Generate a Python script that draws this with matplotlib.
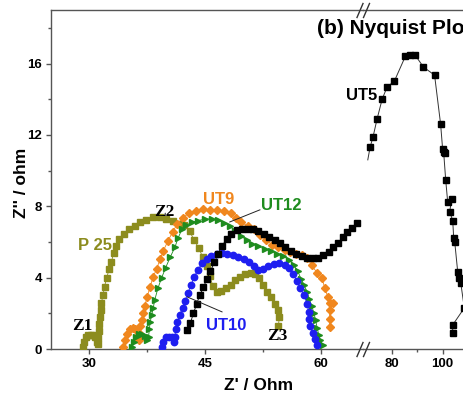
import matplotlib
matplotlib.use('Agg')
import matplotlib.pyplot as plt
from matplotlib.lines import Line2D
from matplotlib.ticker import FixedLocator

plt.rcParams['font.family'] = ['Liberation Sans', 'DejaVu Sans']
plt.rcParams['font.weight'] = 'bold'

# ---------------- data ----------------
p25_x = [29.2, 29.4, 29.6, 29.9, 30.2, 30.5, 30.8, 31.0, 31.1, 31.2, 31.3, 31.35, 31.4, 31.5, 31.6,
         31.8, 32.0, 32.3, 32.6, 32.9, 33.2, 33.5, 33.9, 34.5, 35.2, 35.9, 36.6, 37.4, 38.3, 39.2,
         40.0, 40.8, 41.6, 42.3, 43.0, 43.6, 44.2, 44.7, 45.2, 45.6, 46.0, 46.5, 47.1, 47.7, 48.3,
         48.9, 49.5, 50.2, 50.9, 51.5, 52.0, 52.5, 53.0, 53.5, 54.0, 54.5, 54.6, 54.5]
p25_y = [0.1, 0.4, 0.65, 0.8, 0.8, 0.8, 0.7, 0.4, 0.3, 0.6, 1.0, 1.4, 1.8, 2.2, 2.6,
         3.0, 3.5, 4.0, 4.5, 4.9, 5.4, 5.8, 6.15, 6.45, 6.7, 6.9, 7.1, 7.25, 7.38, 7.4,
         7.3, 7.15, 7.0, 6.95, 6.6, 6.1, 5.65, 5.15, 4.65, 4.1, 3.55, 3.22, 3.25, 3.4, 3.6,
         3.85, 4.05, 4.2, 4.27, 4.2, 4.0, 3.6, 3.2, 2.9, 2.55, 2.2, 1.8, 1.3]

ut9_x = [34.4, 34.6, 34.9, 35.3, 35.7, 36.0, 36.2, 36.4, 36.5, 36.6, 36.8, 37.0, 37.2, 37.5, 37.9,
         38.3, 38.75, 39.2, 39.6, 40.2, 40.8, 41.4, 42.1, 42.9, 43.8, 44.8, 45.7, 46.6, 47.5, 48.3,
         49.0, 49.7, 50.5, 51.3, 52.1, 52.9, 53.7, 54.5, 55.3, 56.0, 56.8, 57.5, 58.2, 58.8, 59.5,
         60.1, 60.5, 60.9, 61.1, 61.6, 61.1, 61.1, 61.1]
ut9_y = [0.1, 0.5, 0.85, 1.1, 1.2, 1.1, 0.7, 0.5, 0.9, 1.3, 1.6, 2.0, 2.4, 2.9, 3.5,
         4.05, 4.5, 5.05, 5.5, 6.05, 6.55, 7.0, 7.35, 7.6, 7.75, 7.82, 7.8, 7.8, 7.75, 7.6,
         7.35, 7.1, 6.9, 6.7, 6.4, 6.1, 5.85, 5.7, 5.55, 5.45, 5.35, 5.27, 5.1, 4.7, 4.26,
         4.0, 3.4, 2.9, 2.6, 2.6, 2.2, 1.7, 1.23]

ut12_x = [35.6, 35.8, 36.1, 36.5, 36.9, 37.3, 37.5, 37.7, 37.8, 37.9, 38.1, 38.3, 38.5, 38.9, 39.4,
          39.9, 40.5, 41.1, 41.5, 42.0, 42.6, 43.3, 44.1, 45.0, 45.9, 46.7, 47.5, 48.2, 48.9, 49.6,
          50.4, 51.1, 51.9, 52.7, 53.5, 54.3, 55.1, 55.9, 56.5, 57.0, 57.4, 57.8, 58.2, 58.5, 58.8,
          59.1, 59.3, 59.5, 59.7, 59.9, 60.2]
ut12_y = [0.1, 0.4, 0.7, 0.85, 0.85, 0.75, 0.5, 0.7, 1.1, 1.5, 1.9, 2.3, 2.75, 3.4, 4.0,
          4.55, 5.15, 5.7, 6.2, 6.7, 6.95, 7.1, 7.2, 7.28, 7.3, 7.22, 7.07, 6.9, 6.6, 6.35,
          6.1, 5.9, 5.75, 5.6, 5.5, 5.35, 5.2, 5.0, 4.7, 4.35, 3.95, 3.6, 3.2, 2.8, 2.4,
          2.0, 1.6, 1.2, 0.8, 0.5, 0.25]

ut10_x = [39.4, 39.6, 39.9, 40.3, 40.7, 41.0, 41.1, 41.2, 41.4, 41.7, 42.1, 42.4, 42.8, 43.2, 43.6,
          44.1, 44.6, 45.2, 45.8, 46.5, 47.2, 47.9, 48.6, 49.3, 50.0, 50.7, 51.3, 51.9, 52.5, 53.2,
          53.9, 54.6, 55.3, 55.9, 56.4, 56.9, 57.3, 57.8, 58.2, 58.4, 58.5, 58.6, 58.9, 59.2, 59.5]
ut10_y = [0.1, 0.4, 0.65, 0.7, 0.65, 0.4, 0.7, 1.1, 1.5, 1.9, 2.3, 2.7, 3.15, 3.6, 4.05,
          4.45, 4.8, 5.05, 5.22, 5.32, 5.38, 5.35, 5.27, 5.15, 5.02, 4.88, 4.65, 4.42, 4.5, 4.65,
          4.78, 4.8, 4.72, 4.55, 4.2, 3.8, 3.4, 3.0, 2.55, 2.1, 1.7, 1.3, 0.9, 0.55, 0.25]

blk_x = [42.7, 43.1, 43.5, 43.9, 44.3, 44.8, 45.2, 45.7, 46.2, 46.7, 47.2, 47.8, 48.4, 49.1, 49.8,
         50.5, 51.2, 51.9, 52.6, 53.3, 54.0, 54.7, 55.4, 56.1, 56.8, 57.5, 58.2, 58.9, 59.6, 60.3,
         61.0, 61.6, 62.2, 62.8, 63.4, 64.0, 64.6]
blk_y = [1.05, 1.45, 2.0, 2.5, 3.0, 3.45, 3.9, 4.35, 4.85, 5.35, 5.8, 6.15, 6.45, 6.65, 6.72,
         6.75, 6.7, 6.6, 6.45, 6.3, 6.12, 5.92, 5.72, 5.52, 5.35, 5.2, 5.12, 5.08, 5.12, 5.25,
         5.45, 5.7, 5.95, 6.25, 6.55, 6.8, 7.05]

ut5_x = [70.3, 71.2, 72.4, 74.0, 76.0, 78.0, 80.8, 85.2, 87.2, 89.2, 92.4, 96.8, 99.2, 100.0, 100.8,
         100.4, 101.2, 102.0, 103.6, 102.8, 104.0, 104.4, 104.8, 106.0, 106.4, 107.2, 108.6, 104.0, 104.0]
ut5_y = [10.6, 11.3, 11.9, 12.9, 14.0, 14.7, 15.0, 16.4, 16.45, 16.45, 15.8, 15.35, 12.6, 11.2, 11.0,
         11.05, 9.5, 8.25, 8.4, 7.7, 7.2, 6.2, 6.0, 4.3, 4.0, 3.7, 2.3, 1.35, 0.9]

left_xticks = [30, 45, 60]
left_xminor = [37.5, 52.5]
right_xticks = [80, 100]
right_xminor = [90, 110]
yticks = [0, 4, 8, 12, 16]
yminor = [2, 6, 10, 14, 18]

# leader lines (data coords of left axes)
ut12_leader_x = [52.1, 48.2]
ut12_leader_y = [7.8, 7.12]
ut10_leader_x = [42.7, 47.2]
ut10_leader_y = [2.92, 2.08]

# ---------------- figure ----------------
W, H = 463, 398
fig = plt.figure(figsize=(W / 100, H / 100), dpi=100)
ax1 = fig.add_axes([51 / W, 49 / H, 312 / W, 339 / H])
ax2 = fig.add_axes([363 / W, 49 / H, 160 / W, 339 / H])
ax2.patch.set_alpha(0)

c_olive = '#8c8c1e'
c_orange = '#f0871e'
c_green = '#1e8c1e'
c_blue = '#1e1ef0'
spine_c = '#555555'

ax1.plot(p25_x, p25_y, color=c_olive, marker='s', ms=4.3, lw=0.6, zorder=3)
ax1.plot(ut9_x, ut9_y, color=c_orange, marker='D', ms=4.0, lw=0.6, zorder=3)
ax1.plot(ut12_x, ut12_y, color=c_green, marker='>', ms=4.8, lw=0.6, zorder=4)
ax1.plot(ut10_x, ut10_y, color=c_blue, marker='o', ms=4.6, lw=0.6, zorder=4)
ax1.plot(blk_x, blk_y, color='black', marker='s', ms=4.0, lw=0.6, zorder=5)
ax2.plot(ut5_x, ut5_y, color='#333333', lw=0.7, marker='s', ms=4.2, mfc='black', mec='black',
         markevery=list(range(1, len(ut5_x))), clip_on=False)

ax1.plot(ut12_leader_x, ut12_leader_y, color='#222222', lw=0.7, zorder=6)
ax1.plot(ut10_leader_x, ut10_leader_y, color='#222222', lw=0.7, zorder=6)

for ax in (ax1, ax2):
    ax.set_ylim(0, 19.0)
    for s in ax.spines.values():
        s.set_color(spine_c)
        s.set_linewidth(1.0)
    ax.tick_params(which='major', direction='out', length=3.5, width=1, color=spine_c,
                   labelsize=9.5, pad=3)
    ax.tick_params(which='minor', direction='out', length=2, width=1, color=spine_c)

ax1.set_xlim(25.08, 65.43)
ax2.set_xlim(68.4, 68.4 + 160 / 2.52)
ax1.spines['right'].set_visible(False)
ax2.spines['left'].set_visible(False)
ax2.spines['right'].set_visible(False)
ax2.tick_params(axis='y', which='both', left=False, labelleft=False)

ax1.xaxis.set_major_locator(FixedLocator(left_xticks))
ax1.xaxis.set_minor_locator(FixedLocator(left_xminor))
ax2.xaxis.set_major_locator(FixedLocator(right_xticks))
ax2.xaxis.set_minor_locator(FixedLocator(right_xminor))
ax1.yaxis.set_major_locator(FixedLocator(yticks))
ax1.yaxis.set_minor_locator(FixedLocator(yminor))
for lab in ax1.get_xticklabels() + ax1.get_yticklabels() + ax2.get_xticklabels():
    lab.set_fontweight('bold')

# break marks
for yb in (349, 10):
    for dx in (0, 6.5):
        fig.add_artist(Line2D([(357 + dx) / W, (363 + dx) / W],
                              [1 - (yb + 7.5) / H, 1 - (yb - 6.5) / H],
                              transform=fig.transFigure, color='#333333', lw=1.0))

# axis labels
fig.text(259 / W, 1 - 386 / H, "Z' / Ohm", ha='center', va='center', fontsize=12.5,
         fontweight='bold')
fig.text(21 / W, 1 - 183 / H, "Z'' / ohm", ha='center', va='center', fontsize=12.5,
         fontweight='bold', rotation=90)

# title and series labels
fig.text(317 / W, 1 - 28 / H, '(b) Nyquist Plot', ha='left', va='center', fontsize=15,
         fontweight='bold')
fig.text(362 / W, 1 - 95 / H, 'UT5', ha='center', va='center', fontsize=12, fontweight='bold')
ax1.text(46.8, 8.36, 'UT9', color=c_orange, ha='center', va='center', fontsize=12, fontweight='bold')
ax1.text(54.8, 8.02, 'UT12', color=c_green, ha='center', va='center', fontsize=12, fontweight='bold')
ax1.text(47.7, 1.29, 'UT10', color=c_blue, ha='center', va='center', fontsize=12, fontweight='bold')
ax1.text(30.8, 5.78, 'P 25', color=c_olive, ha='center', va='center', fontsize=12, fontweight='bold')
serif = ['Liberation Serif', 'DejaVu Serif']
ax1.text(29.1, 1.29, 'Z1', family=serif, ha='center', va='center', fontsize=12.5, fontweight='bold', zorder=7)
ax1.text(39.7, 7.68, 'Z2', family=serif, ha='center', va='center', fontsize=12.5, fontweight='bold', zorder=7)
ax1.text(54.4, 0.73, 'Z3', family=serif, ha='center', va='center', fontsize=12.5, fontweight='bold', zorder=7)

fig.savefig('out.png', dpi=100)
